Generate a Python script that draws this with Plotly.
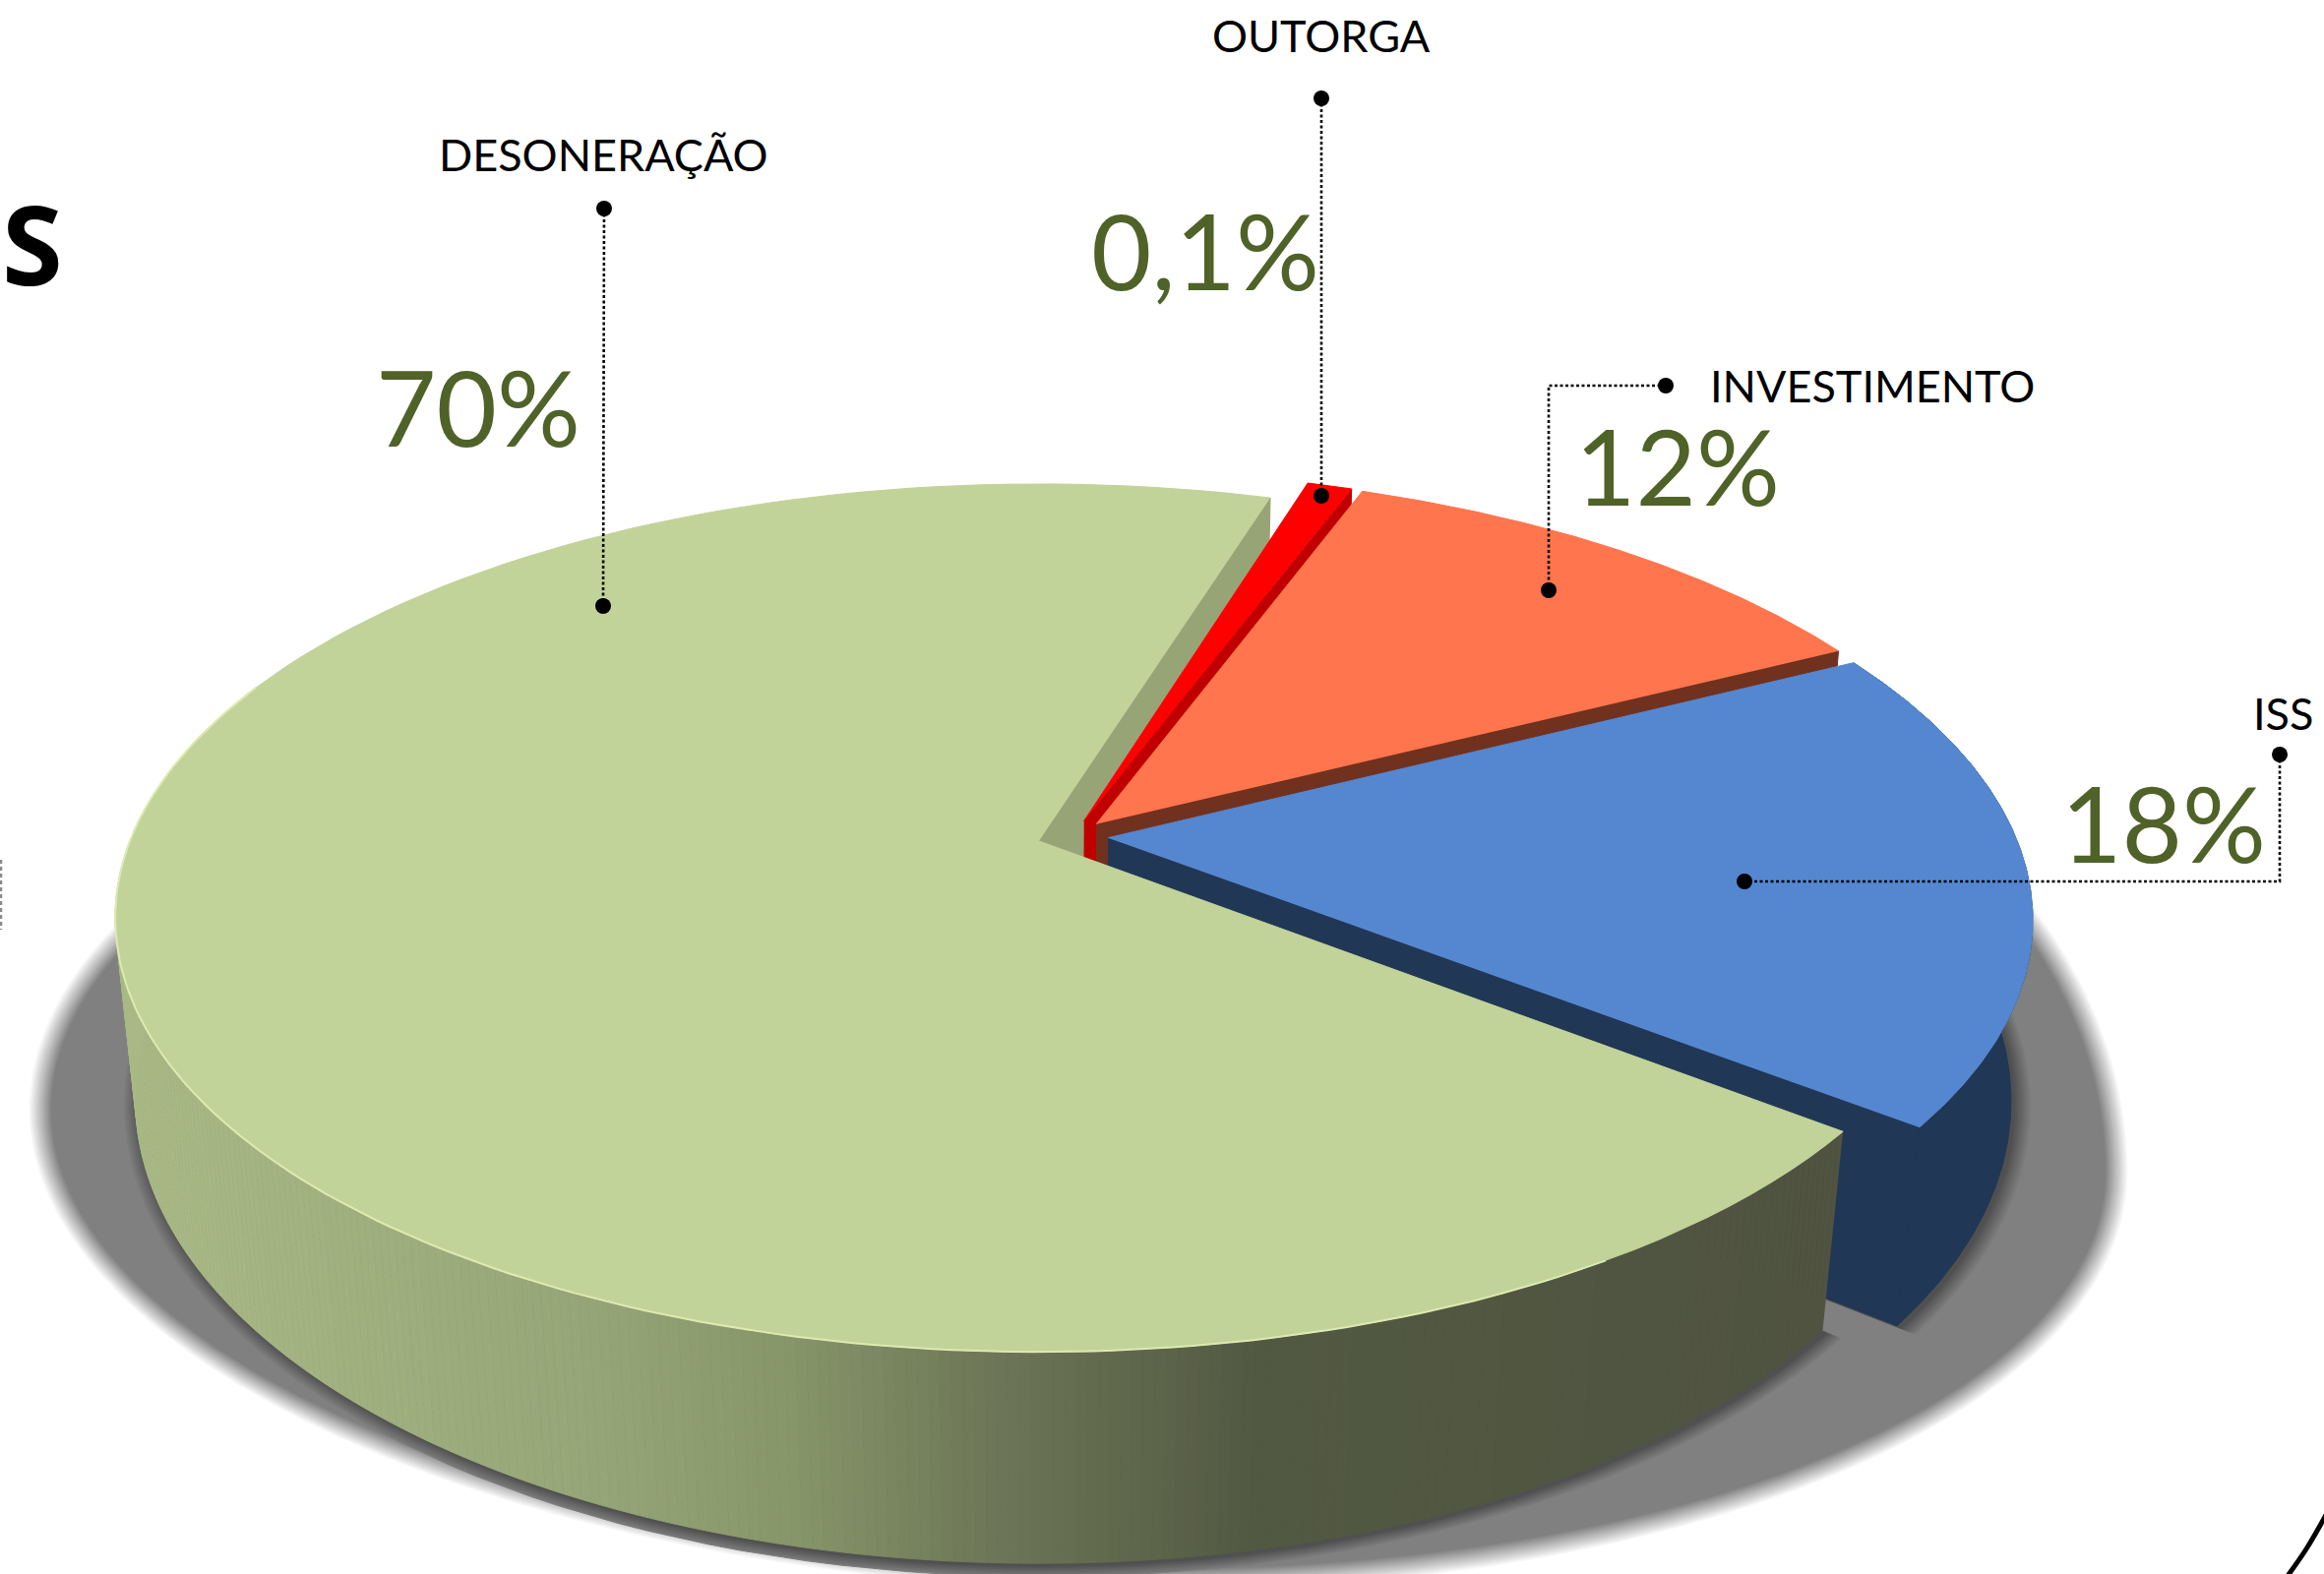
import numpy as np
import plotly.graph_objects as go

# ---------- data ----------
categories = ["DESONERAÇÃO", "OUTORGA", "INVESTIMENTO", "ISS"]
percent_labels = ["70%", "0,1%", "12%", "18%"]
# angular share of each slice as drawn in the picture (percent of the circle)
drawn_shares = [69.25, 0.95, 11.8, 18.0]
START_DEG = 38.0   # clockwise angle where the first slice starts
EXPLODE = 0.039

top_colors = ["#C2D399", "#FF0000", "#FF754D", "#5587D1"]
wall_colors = ["#97A476", "#C00000", "#71311F", "#213756"]

W, H = 2362, 1600
CX = 1056.0


def proj(u, v, A, B, C, p):
    u, v = np.asarray(u, float), np.asarray(v, float)
    w = 1 - p * v
    return CX + A * u / w, (B * v + C) / w


def top(u, v):
    return proj(u, v, 924, 276, 855, 0.177)


def bot(u, v):
    return proj(u, v, 905, 282, 1037, 0.17)


spans = np.array(drawn_shares) / 100 * 360
starts = START_DEG + np.concatenate([[0], np.cumsum(spans)[:-1]])
mids = np.radians(starts + spans / 2)
offs = np.column_stack([np.cos(mids), np.sin(mids)]) * EXPLODE
centers = offs - offs[0]


def arc(i, a0=None, a1=None, r=1.0, n=140):
    a0 = starts[i] if a0 is None else a0
    a1 = starts[i] + spans[i] if a1 is None else a1
    t = np.radians(np.linspace(a0, a1, n))
    return centers[i][0] + r * np.cos(t), centers[i][1] + r * np.sin(t)


fig = go.Figure()


def poly(x, y, color, line=None, lw=1):
    fig.add_trace(go.Scatter(x=list(x), y=list(y), mode="lines", fill="toself",
                             fillcolor=color, hoverinfo="skip",
                             line=dict(color=line or color, width=lw)))


def mix(c0, c1, f):
    a = [int(c0[i:i + 2], 16) for i in (1, 3, 5)]
    b = [int(c1[i:i + 2], 16) for i in (1, 3, 5)]
    return "rgb(%d,%d,%d)" % tuple(round(a[k] + (b[k] - a[k]) * f) for k in range(3))


# ---------- floor shadow (tilted oval with a soft edge) ----------
SH_X, SH_Y, SH_A, SH_B_LOW, SH_TILT = 1096, 1160, 1055, 445, 0.03
th = np.linspace(0, 2 * np.pi, 360)
NL = 16
for k in range(NL):
    d = 11 - 22 * k / (NL - 1)
    ex = SH_X + (SH_A + d) * np.cos(th)
    sn = np.sin(th)
    b_up = 550 + 90 * np.cos(th)
    ey = SH_Y + np.where(sn > 0, SH_B_LOW + d, b_up + d) * sn + SH_TILT * (ex - SH_X)
    poly(ex, ey, mix("#FFFFFF", "#808080", (k + 1) / NL), lw=0.5)

# contact shadow around the base of the two front slices
for k in range(8):
    r = 1.016 - 0.016 * k / 7
    col = mix("#808080", "#505050", (k + 1) / 8)
    for i in (3, 0):
        ua, va = arc(i, r=r)
        x, y = bot(np.r_[centers[i][0], ua], np.r_[centers[i][1], va])
        poly(x + 4, y + 3, col)


# ---------- walls and tops, painted back to front ----------
def cut_wall(i, ang, color):
    ua, va = arc(i, ang, ang, n=1)
    xs, ys = top([centers[i][0], ua[0]], [centers[i][1], va[0]])
    xb, yb = bot([centers[i][0], ua[0]], [centers[i][1], va[0]])
    poly([xs[0], xs[1], xb[1], xb[0]], [ys[0], ys[1], yb[1], yb[0]], color)


def top_face(i):
    ua, va = arc(i)
    x, y = top(np.r_[centers[i][0], ua], np.r_[centers[i][1], va])
    poly(x, y, top_colors[i])


# green cut face at the back
cut_wall(0, starts[0] + spans[0], wall_colors[0])
# red
cut_wall(1, starts[1] + spans[1], wall_colors[1])
top_face(1)
# orange
cut_wall(2, starts[2] + spans[2], wall_colors[2])
top_face(2)
# blue
cut_wall(3, starts[3] + spans[3], wall_colors[3])
ua, va = arc(3)
xt, yt = top(ua, va)
xb, yb = bot(ua, va)
poly(np.r_[xt, xb[::-1]], np.r_[yt, yb[::-1]], wall_colors[3])
top_face(3)

# green outer wall as a horizontal gradient
grad_x = [130, 600, 800, 1000, 1280, 1871]
grad_c = ["#A9B986", "#95A577", "#879669", "#6E7758", "#525942", "#4F5340"]


def grad(x):
    j = int(np.clip(np.searchsorted(grad_x, x) - 1, 0, len(grad_x) - 2))
    f = np.clip((x - grad_x[j]) / (grad_x[j + 1] - grad_x[j]), 0, 1)
    return mix(grad_c[j], grad_c[j + 1], f)


edges = np.linspace(starts[0], starts[0] + 165, 281)
for a0, a1 in zip(edges[:-1], edges[1:]):
    ua, va = arc(0, a0, a1, n=3)
    xt, yt = top(ua, va)
    xb, yb = bot(ua, va)
    poly(np.r_[xt, xb[::-1]], np.r_[yt, yb[::-1]], grad(xt.mean()))

top_face(0)
# pale rim on the green top
ua, va = arc(0, starts[0] + 20, starts[0] + 165)
xr, yr = top(ua, va)
fig.add_trace(go.Scatter(x=xr, y=yr, mode="lines", hoverinfo="skip",
                         line=dict(color="#DCEBB0", width=2)))


# ---------- leader lines ----------
def leader(xs, ys):
    fig.add_trace(go.Scatter(x=xs, y=ys, mode="lines", hoverinfo="skip",
                             line=dict(color="black", width=2.6, dash="3px,2.5px")))
    fig.add_trace(go.Scatter(x=[xs[0], xs[-1]], y=[ys[0], ys[-1]], mode="markers",
                             hoverinfo="skip",
                             marker=dict(color="black", size=16, line=dict(width=0))))


leader([614, 613], [212, 616])
leader([1343, 1343], [100, 504])
leader([1693, 1574, 1574], [392, 392, 600])
leader([2317, 2317, 1773], [767, 896, 896])

# page fragments cropped by the picture's edge
fig.add_trace(go.Scatter(x=[1, 1], y=[874, 945], mode="lines", hoverinfo="skip",
                         line=dict(color="#8A8A8A", width=2.5, dash="4px,3px")))
fig.add_trace(go.Scatter(x=[2325, 2345, 2364], y=[1602, 1573, 1540], mode="lines",
                         hoverinfo="skip",
                         line=dict(color="black", width=5, shape="spline")))

# ---------- text ----------
name_pos = [(613, 157), (1343, 36), (1903, 392), (2320, 725)]
pct_pos = [(486, 413), (1225, 254), (1705, 473), (2199, 836)]
for (nm, (nx, ny)), (pc, (px, py)) in zip(zip(categories, name_pos), zip(percent_labels, pct_pos)):
    fig.add_annotation(x=nx, y=ny, text=nm, showarrow=False, xanchor="center", yanchor="middle",
                       font=dict(family="Lato", size=45, color="black"))
    fig.add_annotation(x=px, y=py, text=pc, showarrow=False, xanchor="center", yanchor="middle",
                       font=dict(family="Lato", size=106, color="#4F6228"))
fig.add_annotation(x=33, y=246, text="<b>S</b>", showarrow=False, xanchor="center", yanchor="middle",
                   font=dict(family="Open Sans", size=112, color="black"))

fig.update_layout(width=W, height=H, margin=dict(l=0, r=0, t=0, b=0), showlegend=False,
                  paper_bgcolor="white", plot_bgcolor="white",
                  xaxis=dict(range=[0, W], visible=False, fixedrange=True),
                  yaxis=dict(range=[H, 0], visible=False, fixedrange=True))
fig.write_html("out.html", config=dict(displayModeBar=False),
               post_script="document.body.style.margin='0';document.body.style.overflow='hidden';")
